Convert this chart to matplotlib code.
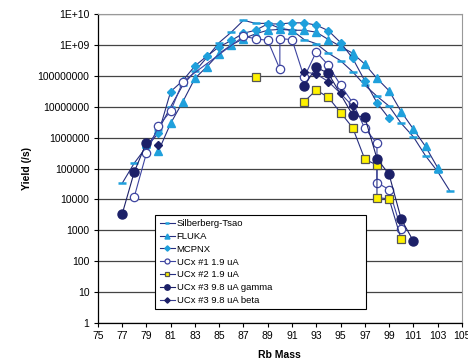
import numpy as np
import matplotlib
matplotlib.use('Agg')
from matplotlib import pyplot as plt
from matplotlib.ticker import FixedLocator, NullLocator

plt.rcParams['font.family'] = ['Liberation Sans', 'DejaVu Sans']

nan = np.nan

#%% DATA
silb_mass = [77, 78, 79, 80, 81, 82, 83, 84, 85, 86, 87, 88, 89, 90, 91, 92, 93, 94, 95, 96, 97, 98, 99, 100, 101, 102, 103, 104]
silb_yield = [3.3e4, 1.5e5, 5e5, 1.8e6, 1e7, 5e7, 1.4e8, 4e8, 1.2e9, 2.6e9, 6.3e9, 5e9, 5e9, 3.5e9, 3e9, 1.5e9, 1.1e9, 5.4e8, 3.1e8, 1.35e8, 5e7, 2.2e7, 1.05e7, 2.9e6, 1.07e6, 2.6e5, 8e4, 1.9e4]

fluka_mass = [80, 81, 82, 83, 84, 85, 86, 87, 88, 89, 90, 91, 92, 93, 94, 95, 96, 97, 98, 99, 100, 101, 102, 103]
fluka_yield = [3.7e5, 2.9e6, 1.45e7, 8.3e7, 2e8, 5.3e8, 1e9, 1.6e9, 2.3e9, 3e9, 3.2e9, 3e9, 3e9, 2.6e9, 1.5e9, 9e8, 5.4e8, 2.4e8, 8.3e7, 3.3e7, 6.9e6, 1.9e6, 5.2e5, 1.07e5]

mcpnx_mass = [79, 80, 81, 82, 83, 84, 85, 86, 87, 88, 89, 90, 91, 92, 93, 94, 95, 96, 97, 98, 99]
mcpnx_yield = [5e5, 1.4e6, 3.1e7, 7e7, 2.1e8, 4.4e8, 8.7e8, 1.4e9, 2.4e9, 3e9, 4.8e9, 4.8e9, 5.2e9, 5.2e9, 4.4e9, 2.9e9, 1.2e9, 3.7e8, 6.9e7, 1.35e7, 4.2e6]

ucx1_mass = [78, 79, 80, 81, 82, 87, 88, 89, 90, 90, 91, 92, 93, 94, 95, 96, 97, 98, 98, 99, 100]
ucx1_yield = [1.2e4, 3.1e5, 2.4e6, 7.2e6, 6.5e7, 1.9e9, 1.6e9, 1.4e9, 1.66e8, 1.6e9, 1.5e9, 9e7, 6e8, 2.2e8, 5e7, 1.35e7, 2e6, 6.6e5, 3.5e4, 2.1e4, 1.07e3]

ucx2_mass = [88, 90, 92, 93, 94, 95, 96, 97, 98, 98, 99, 100]
ucx2_yield = [8.9e7, nan, 1.45e7, 3.5e7, 2e7, 6.5e6, 2.1e6, 2e5, 1.3e5, 1.15e4, 1.05e4, 510]

ucx3g_mass = [77, 78, 79, 85, 92, 93, 94, 96, 97, 98, 99, 100, 101]
ucx3g_yield = [3.3e3, 7.7e4, 6.9e5, nan, 4.7e7, 1.9e8, 1.2e8, 5.4e6, 4.6e6, 2.1e5, 6.5e4, 2.3e3, 450]

ucx3b_mass = [80, 85, 92, 93, 94, 95, 96]
ucx3b_yield = [5.8e5, nan, 1.35e8, 1.15e8, 6.5e7, 2.7e7, 1.05e7]

ytick_vals = [1, 10, 100, 1000, 10000, 100000, 1000000, 10000000, 100000000, 1e9, 1e10]
ytick_labels = ['1', '10', '100', '1000', '10000', '100000', '1000000', '10000000', '100000000', '1E+09', '1E+10']
xtick_vals = list(range(75, 106, 2))

#%% PLOT
navy = '#262F80'
cyan = '#1FA0DC'
dark = '#1C2068'

fig = plt.figure(figsize=(4.68, 3.61), dpi=100)
ax = fig.add_axes([0.209, 0.105, 0.778, 0.856])

lw = 0.8
ax.plot(silb_mass, silb_yield, color=navy, lw=lw, marker='_', ms=6, mew=1.8, mec=cyan, label='Silberberg-Tsao', zorder=3)
ax.plot(fluka_mass, fluka_yield, color=navy, lw=lw, marker='^', ms=6, mfc=cyan, mec=cyan, label='FLUKA', zorder=3)
ax.plot(mcpnx_mass, mcpnx_yield, color=navy, lw=lw, marker='D', ms=4.5, mfc=cyan, mec=cyan, label='MCPNX', zorder=3)
ax.plot(ucx1_mass, ucx1_yield, color='#3D44A0', lw=lw, marker='o', ms=6, mfc='white', mec='#3D44A0', mew=0.9, label='UCx #1 1.9 uA', zorder=4)
ax.plot(ucx2_mass, ucx2_yield, color=navy, lw=lw, marker='s', ms=6, mfc='#FFF200', mec='#555555', mew=0.9, label='UCx #2 1.9 uA', zorder=4)
ax.plot(ucx3g_mass, ucx3g_yield, color=dark, lw=lw, marker='o', ms=6.5, mfc=dark, mec=dark, label='UCx #3 9.8 uA gamma', zorder=5)
ax.plot(ucx3b_mass, ucx3b_yield, color='#3A3F8F', lw=lw, marker='D', ms=4.5, mfc=dark, mec=dark, label='UCx #3 9.8 uA beta', zorder=5)

ax.set_yscale('log')
ax.set_ylim(1, 1e10)
ax.set_xlim(75, 105)
ax.yaxis.set_major_locator(FixedLocator(ytick_vals))
ax.yaxis.set_minor_locator(NullLocator())
ax.set_yticklabels(ytick_labels, fontsize=7.5)
ax.set_xticks(xtick_vals)
ax.set_xticklabels([str(v) for v in xtick_vals], fontsize=7.5)
ax.tick_params(axis='both', direction='out', length=3, width=0.8, pad=3)

ax.grid(axis='y', color='#444444', lw=0.9)
ax.set_axisbelow(True)
for s in ['top', 'right']:
    ax.spines[s].set_color('#999999')
for s in ['left', 'bottom']:
    ax.spines[s].set_color('black')
    ax.spines[s].set_linewidth(0.9)

ax.set_ylabel('Yield (/s)', fontsize=7.5, fontweight='bold', labelpad=4)
ax.set_xlabel('Rb Mass', fontsize=7.5, fontweight='bold', labelpad=6)

leg = ax.legend(loc='lower left', bbox_to_anchor=(0.145, 0.03, 0.605, 0.3), mode='expand',
                fontsize=6.8, frameon=True, fancybox=False, edgecolor='black', framealpha=1,
                handlelength=1.6, handletextpad=0.2, labelspacing=0.4, borderpad=0.45,
                markerscale=0.6)
leg.get_frame().set_linewidth(0.8)
leg.set_zorder(10)

fig.savefig('out.png', dpi=100)
